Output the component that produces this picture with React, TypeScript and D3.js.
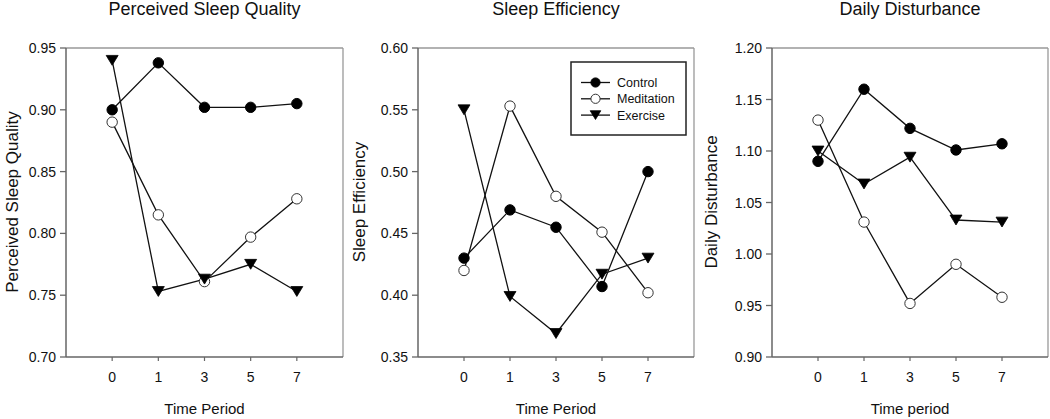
import React from "react";
import * as d3 from "d3";

const timePoints = ["0", "1", "3", "5", "7"];
const seriesNames = ["Control", "Meditation", "Exercise"];

const sleepQualityControl = [0.9, 0.938, 0.902, 0.902, 0.905];
const sleepQualityMeditation = [0.89, 0.815, 0.761, 0.797, 0.828];
const sleepQualityExercise = [0.94, 0.753, 0.763, 0.775, 0.753];

const efficiencyControl = [0.43, 0.469, 0.455, 0.407, 0.5];
const efficiencyMeditation = [0.42, 0.553, 0.48, 0.451, 0.402];
const efficiencyExercise = [0.55, 0.399, 0.369, 0.417, 0.43];

const disturbanceControl = [1.09, 1.16, 1.122, 1.101, 1.107];
const disturbanceMeditation = [1.13, 1.031, 0.952, 0.99, 0.958];
const disturbanceExercise = [1.1, 1.068, 1.094, 1.033, 1.031];

const qualityTicks = [0.7, 0.75, 0.8, 0.85, 0.9, 0.95];
const efficiencyTicks = [0.35, 0.4, 0.45, 0.5, 0.55, 0.6];
const disturbanceTicks = [0.9, 0.95, 1.0, 1.05, 1.1, 1.15, 1.2];

const FONT = "'Liberation Sans', Arial, sans-serif";
const TOP = 48;
const BOTTOM = 357;

type Panel = {
  title: string;
  yLabel: string;
  xLabel: string;
  left: number;
  right: number;
  ticks: number[];
  series: number[][];
  labelOffset: number;
  legend?: boolean;
};

const panels: Panel[] = [
  {
    title: "Perceived Sleep Quality",
    yLabel: "Perceived Sleep Quality",
    xLabel: "Time Period",
    left: 66,
    right: 343,
    ticks: qualityTicks,
    series: [sleepQualityControl, sleepQualityMeditation, sleepQualityExercise],
    labelOffset: 48,
  },
  {
    title: "Sleep Efficiency",
    yLabel: "Sleep Efficiency",
    xLabel: "Time Period",
    left: 418,
    right: 694,
    ticks: efficiencyTicks,
    series: [efficiencyControl, efficiencyMeditation, efficiencyExercise],
    labelOffset: 53,
    legend: true,
  },
  {
    title: "Daily Disturbance",
    yLabel: "Daily Disturbance",
    xLabel: "Time period",
    left: 772,
    right: 1048,
    ticks: disturbanceTicks,
    series: [disturbanceControl, disturbanceMeditation, disturbanceExercise],
    labelOffset: 55,
  },
];

function Marker({ kind, x, y, r }: { kind: number; x: number; y: number; r: number }) {
  if (kind === 0) return <circle cx={x} cy={y} r={r} fill="#000" stroke="#000" strokeWidth={1} />;
  if (kind === 1) return <circle cx={x} cy={y} r={r} fill="#fff" stroke="#333" strokeWidth={1} />;
  const w = r * 1.15;
  const h = r * 0.95;
  return (
    <path
      d={`M${x - w},${y - h} L${x + w},${y - h} L${x},${y + h} Z`}
      fill="#000"
      stroke="#000"
      strokeWidth={0.8}
    />
  );
}

function PanelView({ p }: { p: Panel }) {
  const x = d3.scalePoint<string>().domain(timePoints).range([p.left, p.right]).padding(1);
  const y = d3
    .scaleLinear()
    .domain([p.ticks[0], p.ticks[p.ticks.length - 1]])
    .range([BOTTOM, TOP]);
  const line = d3
    .line<number>()
    .x((_, i) => x(timePoints[i]) as number)
    .y((v) => y(v));
  const cx = (p.left + p.right) / 2;
  const midY = 202;
  return (
    <g>
      <text x={cx} y={15} textAnchor="middle" fontSize={18} fontFamily={FONT} fill="#111">
        {p.title}
      </text>
      {/* frame */}
      <line x1={p.left} x2={p.right} y1={TOP} y2={TOP} stroke="#999" strokeWidth={1.3} />
      <line x1={p.right} x2={p.right} y1={TOP} y2={BOTTOM} stroke="#999" strokeWidth={1.3} />
      <line x1={p.left} x2={p.left} y1={TOP} y2={BOTTOM} stroke="#666" strokeWidth={1.5} />
      <line x1={p.left} x2={p.right} y1={BOTTOM} y2={BOTTOM} stroke="#666" strokeWidth={1.5} />
      {p.ticks.map((t) => (
        <g key={t}>
          <line x1={p.left - 6} x2={p.left} y1={y(t)} y2={y(t)} stroke="#666" strokeWidth={1.3} />
          <text
            x={p.left - 10}
            y={y(t)}
            dy="0.36em"
            textAnchor="end"
            fontSize={14}
            fontFamily={FONT}
            fill="#111"
          >
            {t.toFixed(2)}
          </text>
        </g>
      ))}
      {timePoints.map((tp) => (
        <g key={tp}>
          <line
            x1={x(tp) as number}
            x2={x(tp) as number}
            y1={BOTTOM}
            y2={BOTTOM + 4}
            stroke="#666"
            strokeWidth={1.2}
          />
          <text
            x={x(tp) as number}
            y={382}
            textAnchor="middle"
            fontSize={14}
            fontFamily={FONT}
            fill="#111"
          >
            {tp}
          </text>
        </g>
      ))}
      <text x={cx} y={414} textAnchor="middle" fontSize={15} fontFamily={FONT} fill="#111">
        {p.xLabel}
      </text>
      <text
        transform={`translate(${p.left - p.labelOffset},${midY}) rotate(-90)`}
        textAnchor="middle"
        fontSize={17}
        fontFamily={FONT}
        fill="#111"
      >
        {p.yLabel}
      </text>
      {p.series.map((s, k) => (
        <path key={"l" + k} d={line(s) || ""} fill="none" stroke="#111" strokeWidth={1.3} />
      ))}
      {p.series.map((s, k) =>
        s.map((v, i) => (
          <Marker key={k + "-" + i} kind={k} x={x(timePoints[i]) as number} y={y(v)} r={5.2} />
        ))
      )}
      {p.legend && (
        <g>
          <rect x={571} y={62} width={115} height={73} fill="#fff" stroke="#222" strokeWidth={1.5} />
          {seriesNames.map((n, k) => {
            const ly = 82.5 + k * 16.3;
            return (
              <g key={n}>
                <line x1={581} x2={610} y1={ly} y2={ly} stroke="#111" strokeWidth={1.3} />
                <Marker kind={k} x={595.5} y={ly} r={4.6} />
                <text x={617} y={ly} dy="0.36em" fontSize={12.5} fontFamily={FONT} fill="#111">
                  {n}
                </text>
              </g>
            );
          })}
        </g>
      )}
    </g>
  );
}

export default function App() {
  return (
    <svg
      width={1050}
      height={419}
      style={{ position: "absolute", left: 0, top: 0, background: "#fff" }}
    >
      <rect x={0} y={0} width={1050} height={419} fill="#fff" />
      {panels.map((p) => (
        <PanelView key={p.title} p={p} />
      ))}
    </svg>
  );
}
